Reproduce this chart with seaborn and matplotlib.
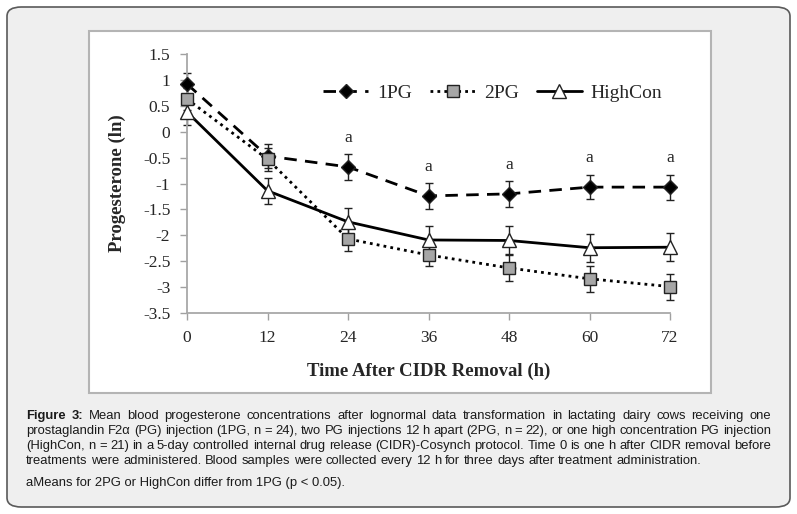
import matplotlib
matplotlib.use('Agg')
import numpy as np
import pandas as pd
import seaborn as sns
from matplotlib import pyplot as plt
from matplotlib.patches import FancyBboxPatch, Rectangle

# Data
hours = [0, 12, 24, 36, 48, 60, 72]
pg1_mean = [0.92, -0.47, -0.68, -1.24, -1.20, -1.07, -1.07]
pg1_se = [0.21, 0.23, 0.25, 0.25, 0.25, 0.23, 0.24]
pg2_mean = [0.63, -0.53, -2.07, -2.38, -2.63, -2.84, -2.99]
pg2_se = [0.22, 0.22, 0.24, 0.22, 0.26, 0.25, 0.25]
hc_mean = [0.38, -1.14, -1.74, -2.09, -2.10, -2.24, -2.23]
hc_se = [0.25, 0.25, 0.27, 0.27, 0.28, 0.27, 0.27]
sig_hours = [24, 36, 48, 60, 72]

ytick_vals = [1.5, 1, 0.5, 0, -0.5, -1, -1.5, -2, -2.5, -3, -3.5]
ytick_labels = ['1.5', '1', '0.5', '0', '-0.5', '-1', '-1.5', '-2', '-2.5', '-3', '-3.5']

caption_lines = [
    'Figure 3: Mean blood progesterone concentrations after lognormal data transformation in lactating dairy cows receiving one',
    'prostaglandin F2\u03b1 (PG) injection (1PG, n = 24), two PG injections 12 h apart (2PG, n = 22), or one high concentration PG injection',
    '(HighCon, n = 21) in a 5-day controlled internal drug release (CIDR)-Cosynch protocol. Time 0 is one h after CIDR removal before',
    'treatments were administered. Blood samples were collected every 12 h for three days after treatment administration.',
]
footnote = 'aMeans for 2PG or HighCon differ from 1PG (p < 0.05).'

df = pd.DataFrame({
    'hours': hours * 3,
    'mean': pg1_mean + pg2_mean + hc_mean,
    'se': pg1_se + pg2_se + hc_se,
    'group': ['1PG'] * 7 + ['2PG'] * 7 + ['HighCon'] * 7,
})

sns.set_style('white')
plt.rcParams['font.family'] = ['Liberation Serif', 'DejaVu Serif']

W, H = 797, 514
fig = plt.figure(figsize=(W / 100, H / 100), dpi=100)

# outer grey rounded box and white chart panel
fig.patches.append(FancyBboxPatch((7 / W, 7 / H), 783 / W, 500 / H,
                                  boxstyle='round,pad=0,rounding_size=0.018',
                                  transform=fig.transFigure, facecolor='#efefef',
                                  edgecolor='#5a5a5a', linewidth=1.2, zorder=-3))
fig.patches.append(Rectangle((89 / W, (H - 393) / H), 622 / W, 362 / H,
                             transform=fig.transFigure, facecolor='white',
                             edgecolor='#b4b4b4', linewidth=1.5, zorder=-2))

ax = fig.add_axes([187 / W, (H - 313) / H, 483 / W, 259 / H])
ax.patch.set_alpha(0)

styles = {
    '1PG': dict(marker='D', markerfacecolor='black', markersize=7.5, linestyle=(0, (4.5, 3))),
    '2PG': dict(marker='s', markerfacecolor='#a6a6a6', markersize=8, linestyle=(0, (1, 1.5))),
    'HighCon': dict(marker='^', markerfacecolor='white', markersize=9.5, linestyle='-'),
}

for name, st in styles.items():
    sub = df[df['group'] == name]
    ax.errorbar(sub['hours'], sub['mean'], yerr=sub['se'], fmt='none',
                ecolor='#222222', elinewidth=1, capsize=3, capthick=1, zorder=2,
                clip_on=False)
    sns.lineplot(data=sub, x='hours', y='mean', ax=ax, color='black', linewidth=2,
                 markeredgecolor='#222222', markeredgewidth=1, label=name, zorder=3,
                 clip_on=False, **st)

pg1 = df[df['group'] == '1PG'].set_index('hours')
for h in sig_hours:
    ax.annotate('a', (h, pg1.loc[h, 'mean']), xytext=(0, 21), textcoords='offset points',
                ha='center', va='center', fontsize=12.5)

ax.set_xlim(0, 72)
ax.set_ylim(-3.5, 1.5)
ax.set_xticks(hours)
ax.set_yticks(ytick_vals)
ax.set_yticklabels(ytick_labels)
ax.tick_params(axis='both', labelsize=12.5, length=5, width=1, color='#a0a0a0',
               direction='out', pad=7, left=True, bottom=True)
for s in ['top', 'right']:
    ax.spines[s].set_visible(False)
for s in ['left', 'bottom']:
    ax.spines[s].set_color('#a8a8a8')
    ax.spines[s].set_linewidth(1.3)

ax.set_xlabel('Time After CIDR Removal (h)', fontsize=13.5, fontweight='bold', labelpad=12)
ax.set_ylabel('Progesterone (ln)', fontsize=13.5, fontweight='bold', labelpad=12)

leg = ax.legend(ncol=3, frameon=False, loc='center right', bbox_to_anchor=(1.02, 0.85),
                fontsize=14, handlelength=2.3, columnspacing=0.95, handletextpad=0.45)

# caption, justified word by word
cap_font = ['Liberation Sans', 'DejaVu Sans']
cap_fs = 9.4
fig.canvas.draw()
renderer = fig.canvas.get_renderer()


def text_width(s, weight='normal'):
    t = fig.text(0, 0, s, fontsize=cap_fs, family=cap_font, weight=weight)
    w = t.get_window_extent(renderer).width
    t.remove()
    return w


space_w = text_width('a a') - text_width('aa')
x_left, x_right = 26, 771
baselines = [419, 434, 449, 464]

for i, line in enumerate(caption_lines):
    words = line.split(' ')
    weights = ['normal'] * len(words)
    if i == 0:
        weights[0] = 'bold'
        weights[1] = 'bold'
    widths = [text_width(w, wt) for w, wt in zip(words, weights)]
    if i < len(caption_lines) - 1:
        gap = (x_right - x_left - sum(widths)) / (len(words) - 1)
    else:
        gap = space_w
    x = x_left
    for w, wt, wd in zip(words, weights, widths):
        fig.text(x / W, (H - baselines[i]) / H, w, fontsize=cap_fs, family=cap_font,
                 weight=wt, va='baseline', ha='left', color='#1a1a1a')
        x += wd + gap

fig.text(x_left / W, (H - 486) / H, footnote, fontsize=cap_fs, family=cap_font,
         va='baseline', ha='left', color='#1a1a1a')

fig.savefig('out.png', dpi=100)
